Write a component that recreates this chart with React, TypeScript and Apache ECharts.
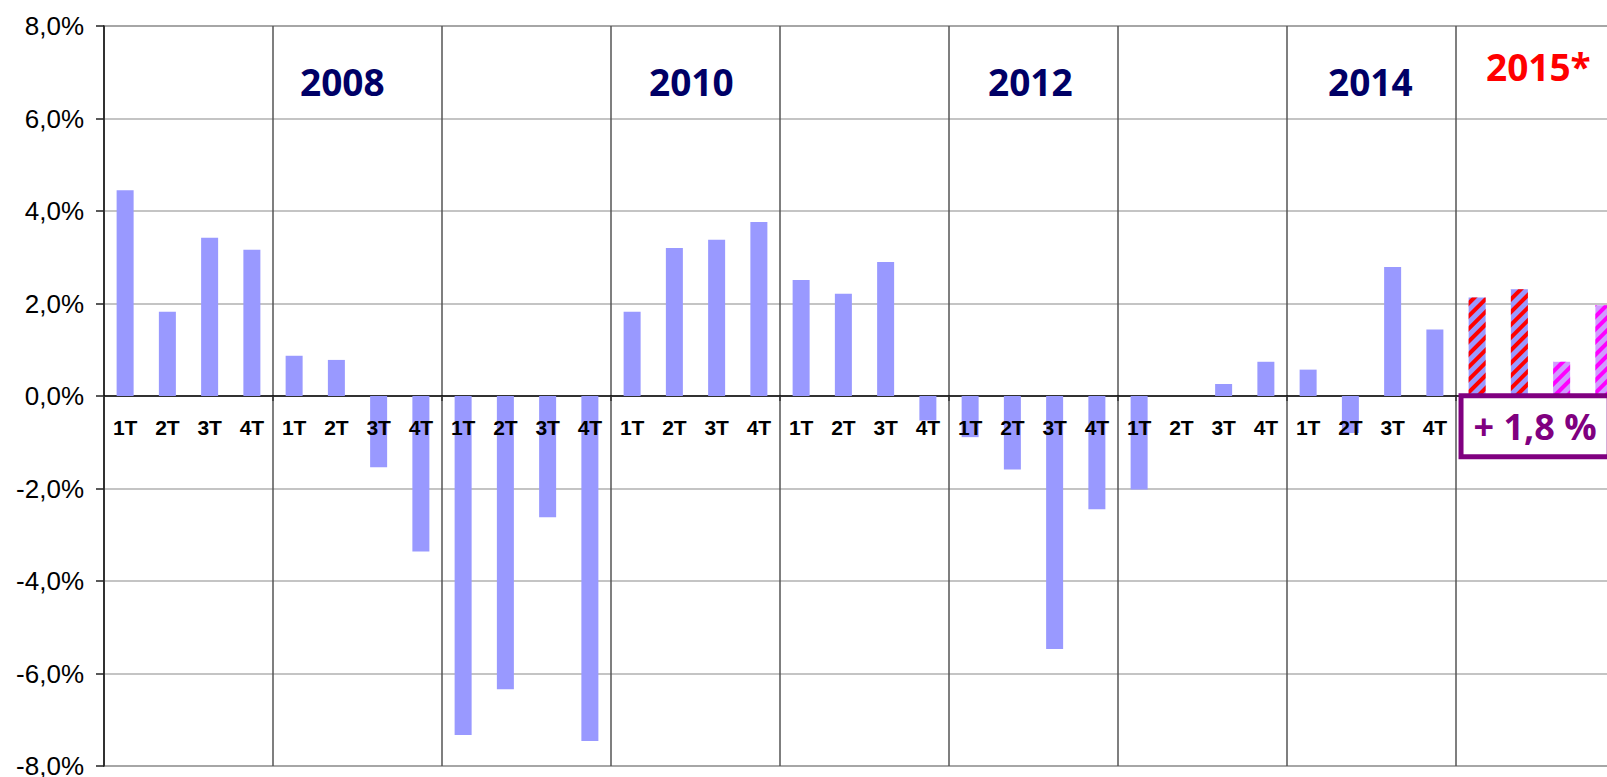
import React, { useEffect, useRef } from "react";
import * as echarts from "echarts";

// ---- data ----
const years = [2007, 2008, 2009, 2010, 2011, 2012, 2013, 2014, 2015];
const quarters = ["1T", "2T", "3T", "4T"];
const growth2007 = [4.45, 1.82, 3.42, 3.16];
const growth2008 = [0.87, 0.78, -1.54, -3.36];
const growth2009 = [-7.33, -6.34, -2.62, -7.46];
const growth2010 = [1.82, 3.2, 3.38, 3.76];
const growth2011 = [2.51, 2.21, 2.9, -0.53];
const growth2012 = [-0.89, -1.59, -5.47, -2.45];
const growth2013 = [-2.02, 0, 0.26, 0.74];
const growth2014 = [0.57, -0.8, 2.79, 1.44];
const forecast2015 = [2.13, 2.31, 0.74, 1.96];
const yearLabels = ["2008", "2010", "2012", "2014", "2015*"];
const forecastYear = 2015;
const forecastNote = "+ 1,8 %";
const noteValue = -1.28;
const yMin = -8;
const yMax = 8;
const yStep = 2;

const categories = years.flatMap((y) => quarters.map((q) => `${y}-${q}`));
const values = [
  growth2007,
  growth2008,
  growth2009,
  growth2010,
  growth2011,
  growth2012,
  growth2013,
  growth2014,
  forecast2015,
].flat();

const BAR = "#9999ff";

function buildOption() {
  const barData = values.map((v, i) => {
    const year = years[Math.floor(i / 4)];
    const q = i % 4;
    if (year !== forecastYear) return v;
    const early = q < 2;
    return {
      value: v,
      itemStyle: {
        color: early ? BAR : "#d09cff",
        decal: {
          symbol: "rect",
          symbolSize: 1,
          color: early ? "#ff0000" : "#ff00ff",
          dashArrayX: [1, 0],
          dashArrayY: [4, 5],
          rotation: -Math.PI / 4,
        },
      },
    };
  });

  // quarter labels placed under the zero line (the forecast year's are covered by the note box)
  const quarterData = categories
    .map((c, i) => ({ c, i }))
    .filter(({ i }) => years[Math.floor(i / 4)] !== forecastYear)
    .map(({ c, i }) => ({
      value: [i, 0],
      label: { formatter: c.split("-")[1] },
    }));

  const labelOffsets = [6, 17, 18, 20, 19];
  const yearData = yearLabels.map((label, k) => {
    const y = parseInt(label, 10);
    const isForecast = label.includes("*");
    return {
      value: [(y - years[0]) * 4 + 1, isForecast ? 7.12 : 6.79],
      label: {
        formatter: label,
        color: isForecast ? "#ff0000" : "#000066",
        offset: [labelOffsets[k], 0],
      },
    };
  });

  const noteData = [{ value: [(forecastYear - years[0]) * 4, noteValue] }];

  return {
    animation: false,
    backgroundColor: "#ffffff",
    grid: {
      left: 104,
      top: 26,
      width: 1521,
      height: 740,
      outerBoundsMode: "none",
      containLabel: false,
      show: true,
      borderColor: "#888888",
      borderWidth: 2,
      backgroundColor: "transparent",
    },
    xAxis: {
      type: "category",
      data: categories,
      axisLine: { onZero: true, lineStyle: { color: "#000000", width: 1.5 } },
      axisTick: {
        show: true,
        interval: (i: number) => i % 4 === 0,
        length: 5,
        lineStyle: { color: "#333333", width: 1.5 },
      },
      axisLabel: { show: false },
      splitLine: {
        show: true,
        interval: (i: number) => i % 4 === 0,
        lineStyle: { color: "#555555", width: 1.5 },
      },
    },
    yAxis: {
      type: "value",
      min: yMin,
      max: yMax,
      interval: yStep,
      axisLine: { show: true, lineStyle: { color: "#222222", width: 1.5 } },
      axisTick: { show: true, length: 8, lineStyle: { color: "#222222", width: 1.5 } },
      axisLabel: {
        formatter: (v: number) => v.toFixed(1).replace(".", ",") + "%",
        fontFamily: "Liberation Sans, Arial, sans-serif",
        fontSize: 26,
        color: "#000000",
        margin: 20,
      },
      splitLine: { lineStyle: { color: "#b0b0b0", width: 1.5 } },
    },
    series: [
      {
        type: "bar",
        data: barData,
        barWidth: 17,
        itemStyle: { color: BAR },
        z: 2,
      },
      {
        type: "scatter",
        symbolSize: 0,
        silent: true,
        z: 4,
        itemStyle: { opacity: 1 },
        data: quarterData,
        label: {
          show: true,
          position: "inside",
          verticalAlign: "middle",
          offset: [0, 31],
          fontFamily: "Liberation Sans, Arial, sans-serif",
          fontWeight: "bold",
          fontSize: 21,
          color: "#000000",
        },
      },
      {
        type: "scatter",
        symbolSize: 0,
        silent: true,
        z: 5,
        itemStyle: { opacity: 1 },
        data: yearData,
        label: {
          show: true,
          position: "inside",
          fontFamily: "Open Sans, sans-serif",
          fontWeight: "bold",
          fontSize: 37,
        },
      },
      {
        type: "scatter",
        symbolSize: 0,
        silent: true,
        z: 6,
        itemStyle: { opacity: 1 },
        data: noteData,
        label: {
          show: true,
          position: "inside",
          align: "left",
          verticalAlign: "middle",
          offset: [-13.6, -29],
          formatter: forecastNote,
          fontFamily: "Open Sans, sans-serif",
          fontWeight: "bold",
          fontSize: 36,
          lineHeight: 40,
          color: "#800080",
          backgroundColor: "#ffffff",
          borderColor: "#800080",
          borderWidth: 5,
          padding: [8, 10, 8, 10],
        },
      },
    ],
  };
}

export default function App() {
  const ref = useRef<HTMLDivElement>(null);
  useEffect(() => {
    if (!ref.current) return;
    const chart = echarts.init(ref.current, undefined, { renderer: "svg" });
    chart.setOption(buildOption() as any);
    return () => chart.dispose();
  }, []);
  return (
    <div
      ref={ref}
      style={{ position: "fixed", left: 0, top: 0, width: 1607, height: 777, background: "#fff" }}
    />
  );
}
